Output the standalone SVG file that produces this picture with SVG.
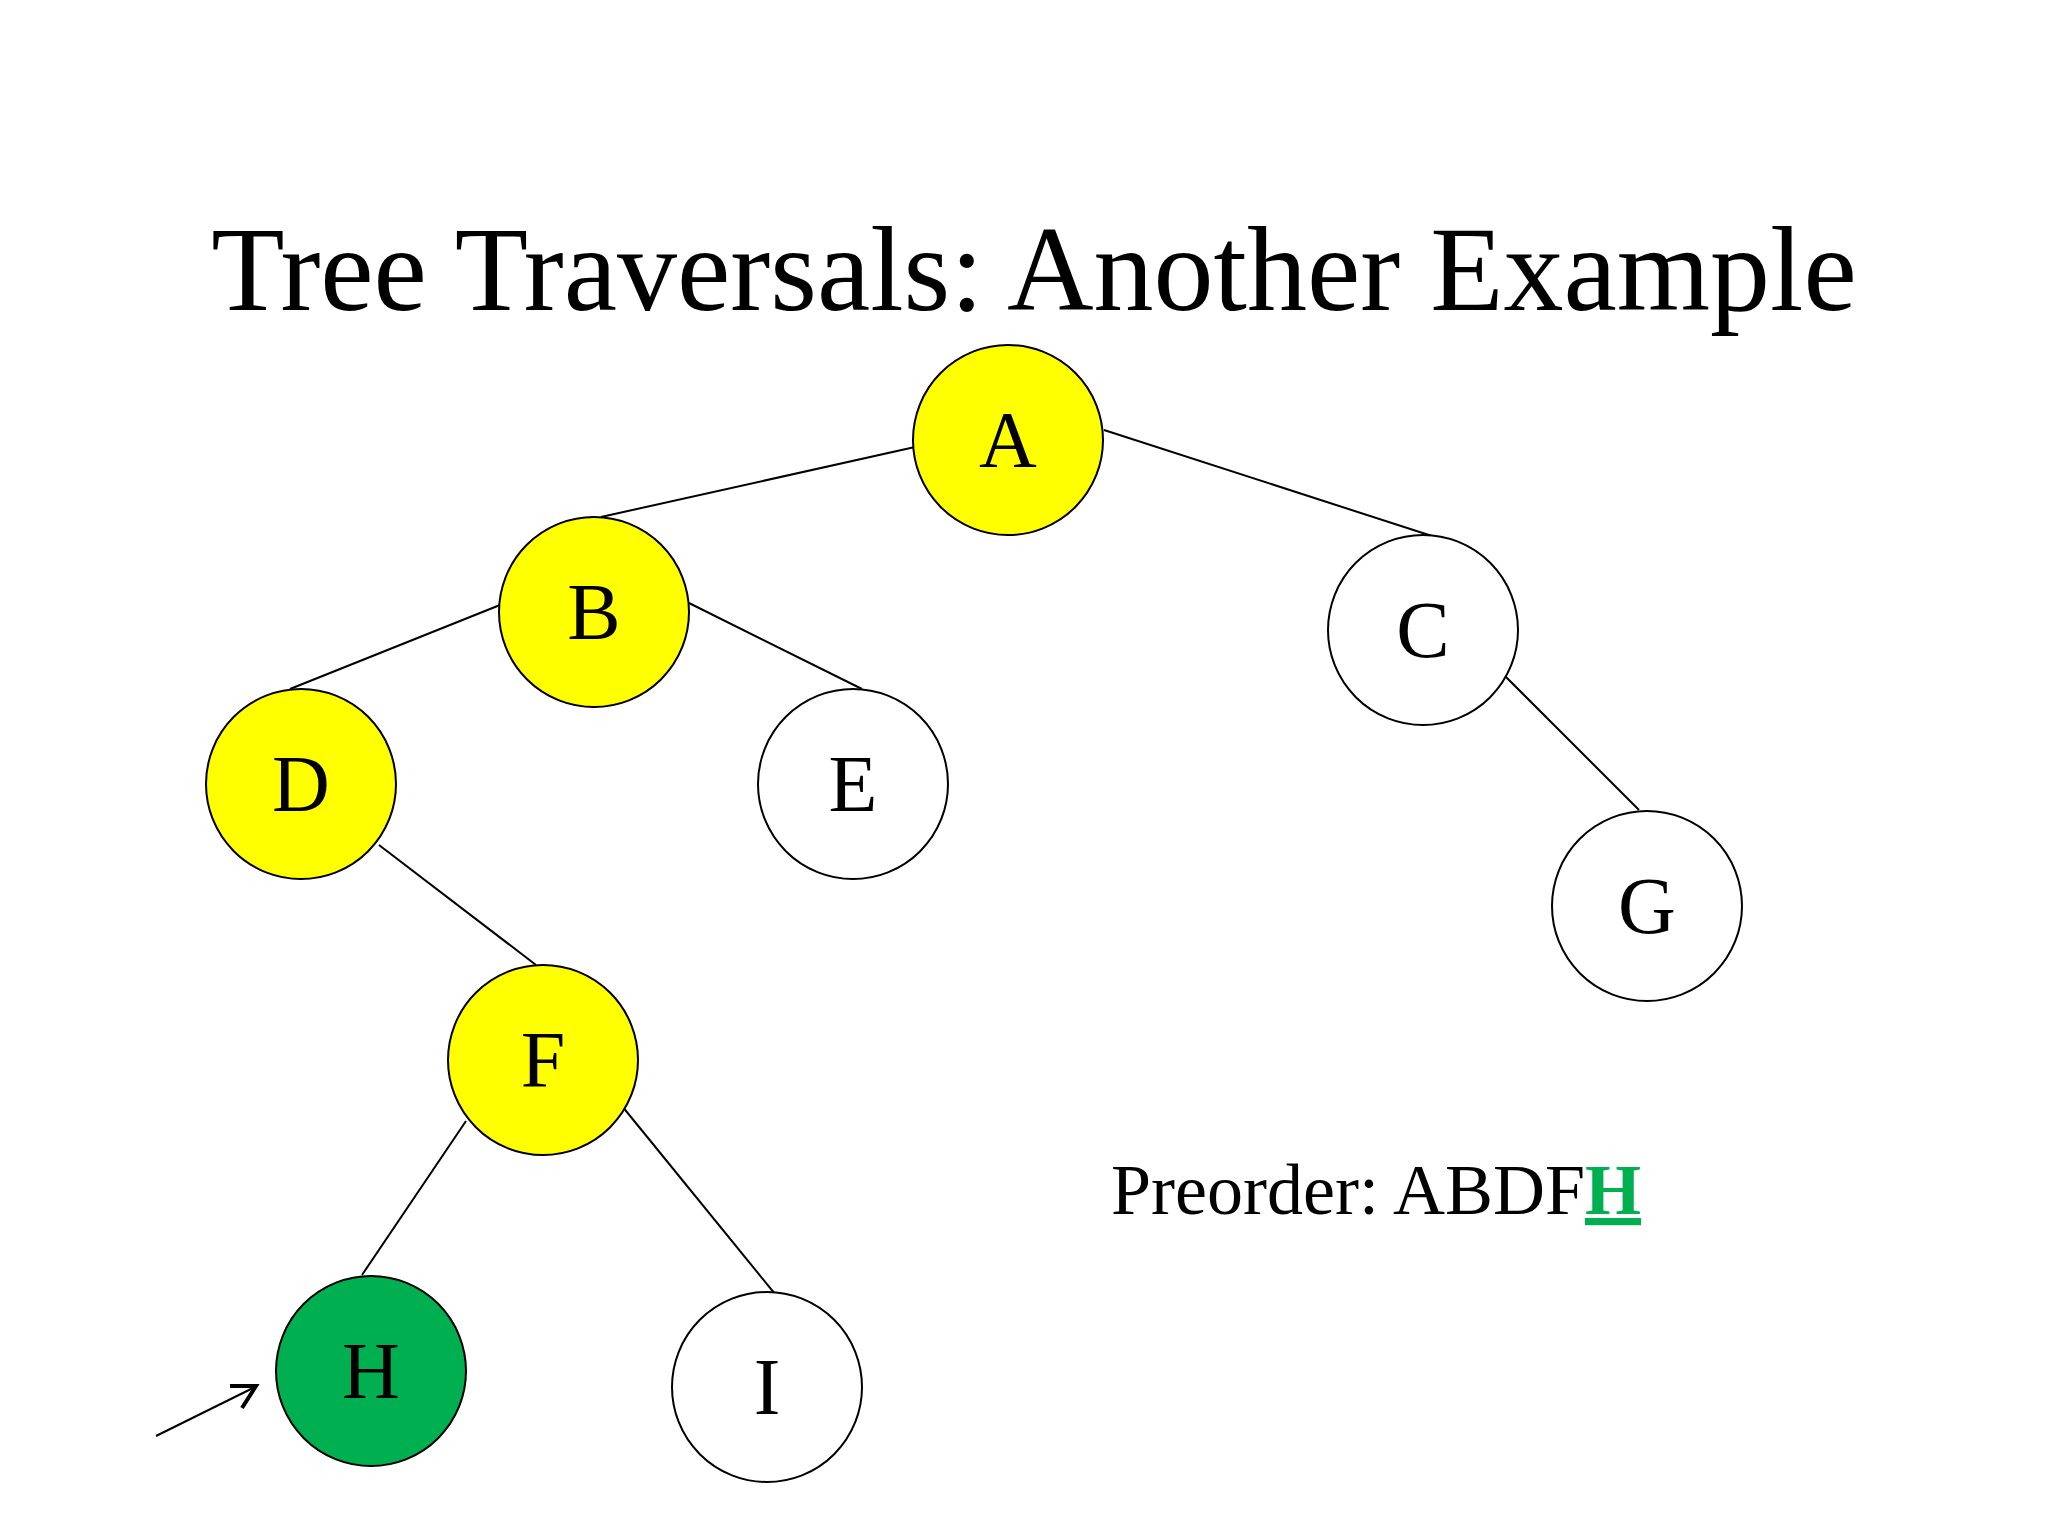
<svg xmlns="http://www.w3.org/2000/svg" width="2048" height="1536" viewBox="0 0 2048 1536">
<style>
.n{stroke:#000;stroke-width:2}
.l{font-family:"Liberation Serif",serif;font-size:80px;text-anchor:middle}
.e line{stroke:#000;stroke-width:2}
</style>
<defs><marker id="ah" markerWidth="10" markerHeight="10" refX="8" refY="5" orient="auto" markerUnits="userSpaceOnUse"><path d="M0,0 L0,0" /></marker></defs>
<rect width="2048" height="1536" fill="#fff"/>
<text x="1034" y="310" font-family="Liberation Serif,serif" font-size="120" text-anchor="middle">Tree Traversals: Another Example</text>
<g class="e" id="edges">
<line x1="915" y1="447" x2="601" y2="517"/>
<line x1="1104" y1="430" x2="1432" y2="536"/>
<line x1="500" y1="605" x2="290" y2="689"/>
<line x1="689" y1="603" x2="862" y2="689"/>
<line x1="1502" y1="673" x2="1639" y2="810"/>
<line x1="379" y1="845" x2="536" y2="965"/>
<line x1="466" y1="1121" x2="362" y2="1275"/>
<line x1="622" y1="1106" x2="775" y2="1294"/>
<g stroke="#000" stroke-width="4" fill="none"><line x1="156" y1="1436" x2="253" y2="1388"/><polyline points="230,1386 256,1386 242,1408"/></g>
</g>
<g id="A"><circle class="n" cx="1008" cy="440" r="95" fill="#ffff00"/><text class="l" x="1008" y="467">A</text></g>
<g id="B"><circle class="n" cx="594" cy="612" r="95" fill="#ffff00"/><text class="l" x="594" y="639">B</text></g>
<g id="C"><circle class="n" cx="1423" cy="630" r="95" fill="#fff"/><text class="l" x="1423" y="657">C</text></g>
<g id="D"><circle class="n" cx="301" cy="784" r="95" fill="#ffff00"/><text class="l" x="301" y="811">D</text></g>
<g id="E"><circle class="n" cx="853" cy="784" r="95" fill="#fff"/><text class="l" x="853" y="811">E</text></g>
<g id="G"><circle class="n" cx="1647" cy="906" r="95" fill="#fff"/><text class="l" x="1647" y="933">G</text></g>
<g id="F"><circle class="n" cx="543" cy="1060" r="95" fill="#ffff00"/><text class="l" x="543" y="1087">F</text></g>
<g id="H"><circle class="n" cx="371" cy="1371" r="95" fill="#00b050"/><text class="l" x="371" y="1398">H</text></g>
<g id="I"><circle class="n" cx="767" cy="1387" r="95" fill="#fff"/><text class="l" x="767" y="1414">I</text></g>
<text x="1111" y="1214" font-family="Liberation Serif,serif" font-size="72">Preorder: ABDF<tspan fill="#00b050" font-weight="bold" text-decoration="underline">H</tspan></text>
</svg>
